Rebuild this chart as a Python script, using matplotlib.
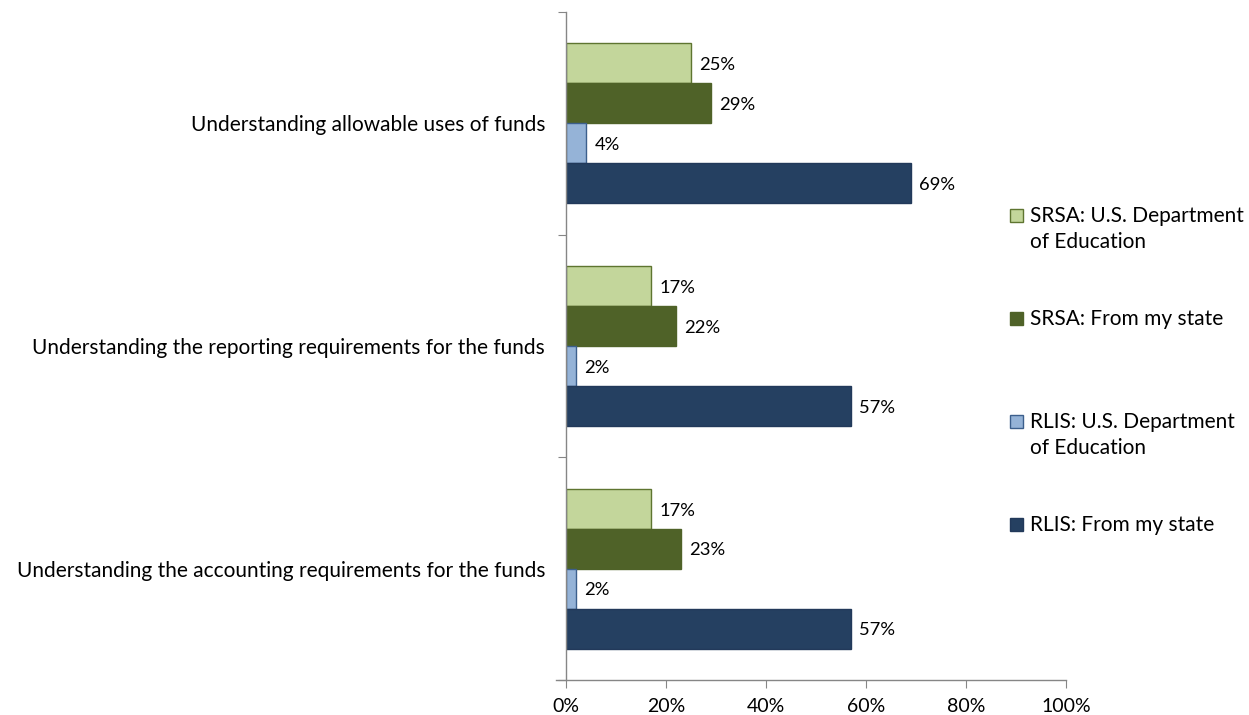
import numpy as np
import matplotlib
matplotlib.use("Agg")
from matplotlib import pyplot
from matplotlib.patches import Rectangle

pyplot.rcParams["font.family"] = ["Lato", "DejaVu Sans"]

# survey data (share of respondents)
categories = [
    "Understanding allowable uses of funds",
    "Understanding the reporting requirements for the funds",
    "Understanding the accounting requirements for the funds",
]
series = [
    "SRSA: U.S. Department\nof Education",
    "SRSA: From my state",
    "RLIS: U.S. Department\nof Education",
    "RLIS: From my state",
]
srsa_ed = [25, 17, 17]
srsa_state = [29, 22, 23]
rlis_ed = [4, 2, 2]
rlis_state = [69, 57, 57]
values = [srsa_ed, srsa_state, rlis_ed, rlis_state]

fills = ["#C3D69B", "#4F6228", "#95B3D7", "#254061"]
edges = ["#5E7530", "#4F6228", "#3C5F8C", "#22395A"]

W, H = 1249, 715
fig = pyplot.figure(figsize=(W / 100, H / 100), dpi=100)
ax = fig.add_axes([566 / W, 1 - 680 / H, 500 / W, 668 / H])

h = 40 / 223
pos = np.arange(len(categories))
for k, (vals, fc, ec) in enumerate(zip(values, fills, edges)):
    y = pos + (k - 1.5) * h
    ax.barh(y, vals, height=h, color=fc, edgecolor=ec, linewidth=1.0)
    for yi, v in zip(y, vals):
        ax.text(v + 1.7, yi + 0.008, f"{v}%", va="center", ha="left", fontsize=13.2, color="#000000")

ax.set_xlim(0, 100)
ax.set_ylim(len(categories) - 0.5, -0.5)
ax.set_xticks(np.arange(0, 101, 20))
ax.set_xticklabels([f"{t}%" for t in range(0, 101, 20)], fontsize=14)

# group boundaries as major ticks, names as minor labels
ax.set_yticks(np.arange(-0.5, len(categories), 1.0))
ax.set_yticklabels([])
ax.set_yticks(pos, minor=True)
ax.set_yticklabels(categories, minor=True, fontsize=15)
ax.tick_params(axis="y", which="minor", length=0, pad=15)
ax.tick_params(axis="y", which="major", length=6, color="#868686", direction="out")
ax.tick_params(axis="x", which="major", length=6, color="#868686", direction="out", pad=7)

for s in ["top", "right"]:
    ax.spines[s].set_visible(False)
for s in ["left", "bottom"]:
    ax.spines[s].set_color("#868686")
    ax.spines[s].set_linewidth(1.0)
ax.spines["bottom"].set_bounds(-2, 100)

# legend on the right
for k, (lab, fc, ec) in enumerate(zip(series, fills, edges)):
    yc = 215 + 103 * k
    fig.patches.append(Rectangle(((1010.5) / W, 1 - (yc + 7) / H), 13 / W, 13 / H,
                                 transform=fig.transFigure, facecolor=fc,
                                 edgecolor=ec, linewidth=1.0))
    fig.text(1030 / W, 1 - (yc - 9) / H, lab, va="top", ha="left",
             fontsize=15, linespacing=1.4)

fig.savefig("out.png", dpi=100)
